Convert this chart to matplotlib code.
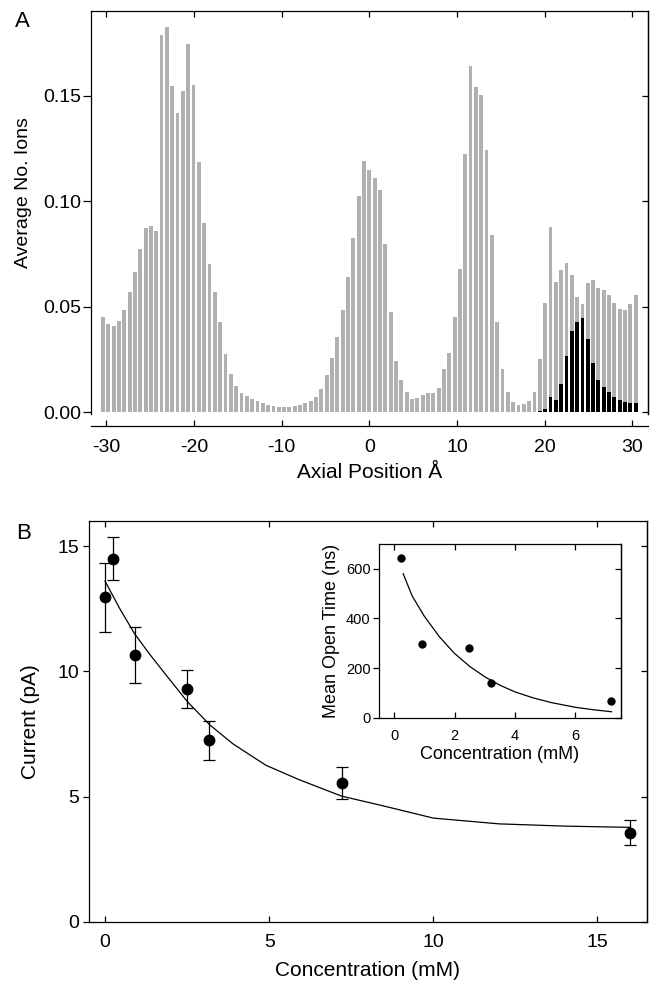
import numpy as np
import matplotlib.pyplot as plt
from matplotlib.ticker import FormatStrFormatter

plt.rcParams['font.family'] = ['Liberation Sans', 'DejaVu Sans']
plt.rcParams['axes.unicode_minus'] = False

# --- Panel A: ion occupancy along the pore axis ---
axial_pos = np.linspace(-30.4, 30.4, 101)  # bin centres (Angstrom)
avg_ions = [
    0.0450, 0.0418, 0.0409, 0.0434, 0.0484, 0.0570, 0.0666, 0.0772, 0.0874, 0.0884,
    0.0858, 0.1786, 0.1826, 0.1545, 0.1416, 0.1523, 0.1742, 0.1551, 0.1184, 0.0896,
    0.0702, 0.0570, 0.0429, 0.0276, 0.0181, 0.0125, 0.0093, 0.0075, 0.0063, 0.0052,
    0.0042, 0.0033, 0.0028, 0.0025, 0.0025, 0.0027, 0.0030, 0.0036, 0.0043, 0.0052,
    0.0071, 0.0109, 0.0175, 0.0259, 0.0357, 0.0483, 0.0639, 0.0824, 0.1024, 0.1188,
    0.1149, 0.1108, 0.1053, 0.0797, 0.0473, 0.0243, 0.0153, 0.0098, 0.0064, 0.0066,
    0.0082, 0.0090, 0.0090, 0.0116, 0.0204, 0.0282, 0.0450, 0.0679, 0.1225, 0.1641,
    0.1538, 0.1502, 0.1244, 0.0840, 0.0426, 0.0205, 0.0095, 0.0049, 0.0033, 0.0038,
    0.0052, 0.0097, 0.0251, 0.0516, 0.0877, 0.0618, 0.0672, 0.0707, 0.0649, 0.0547,
    0.0511, 0.0611, 0.0625, 0.0589, 0.0578, 0.0554, 0.0519, 0.0491, 0.0483, 0.0511,
    0.0557,
]
# black bars (last 19 bins)
site_ions = [0.0007, 0.0015, 0.0074, 0.0058, 0.0134, 0.0265, 0.0386, 0.0429, 0.0446,
             0.0349, 0.0232, 0.0155, 0.0119, 0.0094, 0.0071, 0.0056, 0.0049, 0.0044, 0.0042]
site_pos = axial_pos[-len(site_ions):]

# --- Panel B: current vs concentration ---
conc = [0.0, 0.23, 0.91, 2.49, 3.18, 7.21, 15.98]
current = [12.95, 14.5, 10.65, 9.3, 7.24, 5.54, 3.55]
current_err = [1.38, 0.85, 1.13, 0.75, 0.78, 0.62, 0.5]
fit_conc = [0.0, 0.45, 0.9, 1.35, 1.8, 2.5, 3.2, 3.9, 4.9, 5.9, 7.2, 8.5, 10.0, 12.0, 14.0, 16.0]
fit_current = [13.6, 12.5, 11.5, 10.7, 9.95, 8.8, 7.85, 7.1, 6.25, 5.68, 5.02, 4.62, 4.14, 3.91, 3.82, 3.77]

# inset: mean open time
open_conc = [0.23, 0.93, 2.48, 3.2, 7.19]
open_time = [645, 298, 280, 138, 67]
open_fit_conc = [0.3, 0.6, 1.0, 1.5, 2.0, 2.5, 3.0, 3.5, 4.0, 4.6, 5.2, 6.0, 6.6, 7.2]
open_fit_time = [580, 490, 409, 326, 259, 207, 165, 131, 104, 80, 61, 42, 32, 24]

gray = '#b0b0b0'

fig = plt.figure(figsize=(6.53, 9.86), dpi=100)

# ---------- A ----------
axA = fig.add_axes([0.1389, 0.5797, 0.8534, 0.4091])
axA.bar(axial_pos, avg_ions, width=0.44, color=gray, linewidth=0)
axA.bar(site_pos, site_ions, width=0.44, color='black', linewidth=0)
axA.set_xlim(-31.8, 31.8)
axA.set_ylim(-0.001, 0.19)
axA.spines['bottom'].set_position(('outward', 8.6))
axA.set_xticks([-30, -20, -10, 0, 10, 20, 30])
axA.set_yticks([0, 0.05, 0.10, 0.15])
axA.yaxis.set_major_formatter(FormatStrFormatter('%.2f'))
axA.tick_params(axis='x', direction='in', top=True, length=4.5, width=0.9, pad=9, labelsize=14)
axA.tick_params(axis='y', direction='out', length=5.5, width=0.9, pad=1.5, labelsize=14)
secA = axA.secondary_yaxis('right')
secA.set_yticks([0, 0.05, 0.10, 0.15])
secA.tick_params(direction='in', length=4.5, width=0.9, labelright=False)
axA.set_xlabel('Axial Position Å', fontsize=15, labelpad=5)
axA.set_ylabel('Average No. Ions', fontsize=14)
axA.yaxis.set_label_coords(-0.105, 0.55)
fig.text(0.034, 0.978, 'A', fontsize=16, ha='center', va='center')

# ---------- B ----------
axB = fig.add_axes([0.1357, 0.0651, 0.8547, 0.4065])
axB.plot(fit_conc, fit_current, color='black', linewidth=0.9)
axB.errorbar(conc, current, yerr=current_err, fmt='o', color='black', ms=7.5,
             capsize=4, elinewidth=0.9, capthick=0.9)
axB.set_xlim(-0.5, 16.5)
axB.set_ylim(0, 16)
axB.set_xticks([0, 5, 10, 15])
axB.set_yticks([0, 5, 10, 15])
axB.tick_params(axis='x', direction='in', top=True, length=4.5, width=0.9, pad=9, labelsize=14)
axB.tick_params(axis='y', direction='out', length=4, width=0.9, pad=2.5, labelsize=14)
secB = axB.secondary_yaxis('right')
secB.set_yticks([0, 5, 10, 15])
secB.tick_params(direction='in', length=4.5, width=0.9, labelright=False)
axB.set_xlabel('Concentration (mM)', fontsize=15, labelpad=7)
axB.set_ylabel('Current (pA)', fontsize=15, labelpad=13)
fig.text(0.036, 0.459, 'B', fontsize=16, ha='center', va='center')

# ---------- inset ----------
axI = fig.add_axes([0.5804, 0.2721, 0.3701, 0.1762])
axI.plot(open_fit_conc, open_fit_time, color='black', linewidth=0.9)
axI.plot(open_conc, open_time, 'o', color='black', ms=5)
axI.set_xlim(-0.5, 7.5)
axI.set_ylim(0, 700)
axI.set_xticks([0, 2, 4, 6])
axI.set_yticks([0, 200, 400, 600])
axI.tick_params(axis='x', direction='in', top=True, length=4, width=0.9, pad=8, labelsize=10.5)
axI.tick_params(axis='y', direction='out', length=4, width=0.9, pad=2, labelsize=10.5)
secI = axI.secondary_yaxis('right')
secI.set_yticks([0, 200, 400, 600])
secI.tick_params(direction='in', length=4, width=0.9, labelright=False)
axI.set_xlabel('Concentration (mM)', fontsize=13, labelpad=2)
axI.set_ylabel('Mean Open Time (ns)', fontsize=13, labelpad=4)

for ax in (axA, axB, axI, secA, secB, secI):
    for sp in ax.spines.values():
        sp.set_linewidth(0.9)

fig.savefig('out.png', dpi=100)
